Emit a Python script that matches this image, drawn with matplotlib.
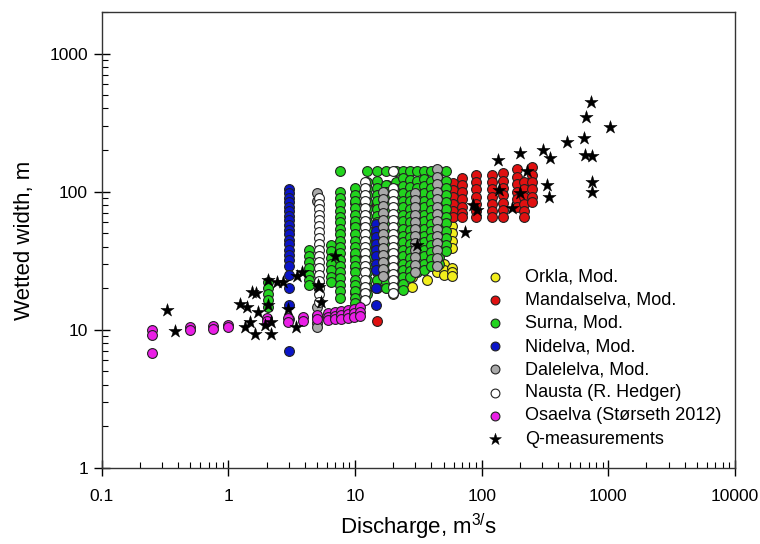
import numpy as np
import matplotlib.pyplot as plt
from matplotlib.ticker import FuncFormatter, LogLocator

plt.rcParams['font.family'] = ['Liberation Sans', 'DejaVu Sans']
plt.rcParams['mathtext.fontset'] = 'custom'
plt.rcParams['mathtext.rm'] = 'Liberation Sans'

# Data: each river is a set of columns (discharge Q)
# with the wetted widths stacked in that column.
orkla_q = [10, 20, 28, 37, 44, 50, 58]
orkla_w = [[83, 58, 34, 28.6, 18.5],
           [20, 18],
           [24, 20.5],
           [28.6, 23],
           [28.6, 26],
           [30, 27, 25],
           [56, 50, 44, 39, 28, 26, 24.5]]

mandal_q = [15, 17.8, 24, 31, 40, 46, 59, 70, 90, 120, 148, 190, 217, 249]
mandal_w = [[80, 11.5],
            [112, 20],
            [110, 100],
            [112],
            [110],
            [108],
            [116, 103, 91, 81, 72, 65],
            [126, 112, 99, 88, 78, 70, 65],
            [133, 117, 104, 92, 82, 73, 65],
            [133, 117, 104, 92, 82, 73, 65],
            [137, 120, 106, 94, 83, 74, 65],
            [145, 128, 113, 100, 88, 78],
            [118, 104, 92, 82, 73, 65],
            [150, 133, 118, 104, 92, 84]]

surna_q = [2.05, 4.3, 6.4, 7.6, 10, 12.5, 15, 17.5, 21, 24, 27, 31, 35, 40, 46, 52]
surna_w = [[22, 20, 18, 16.3, 14.7],
           [38, 34, 31, 28, 25, 23, 21],
           [41, 37, 33, 30, 27, 24, 22],
           [140, 100, 90, 81, 73, 66, 60, 54, 49, 44, 40, 36, 32, 29, 26, 23.5, 21, 19, 17],
           [107, 95, 85, 76, 68, 61, 55, 49, 44, 40, 36, 32, 29, 26, 23, 21, 19, 17, 15.5],
           [140, 118, 105, 94, 84, 75, 67, 60, 53, 47, 42, 37, 33, 29, 26, 23, 20.5, 18],
           [140, 120, 107, 95, 85, 75, 67, 60, 53, 47, 42, 37, 33, 29, 26, 23, 20],
           [140, 112, 100, 89, 80, 71, 63, 56, 50, 45, 40, 35, 31, 28, 25, 22, 20],
           [140, 118, 105, 93, 83, 74, 66, 59, 52, 46, 41, 37, 33, 29, 26, 23, 20.5],
           [140, 125, 110, 97, 86, 77, 68, 61, 54, 48, 43, 38, 34, 30, 27, 24, 21.5, 19.5],
           [140, 122, 108, 95, 85, 75, 67, 60, 53, 47, 42, 37, 33, 29.5, 26.5, 24],
           [140, 120, 106, 94, 83, 74, 66, 58, 52, 46, 41, 36.5, 32.5, 29, 26],
           [140, 124, 110, 97, 86, 77, 68, 61, 54, 48, 43, 38, 34, 30, 27],
           [140, 120, 106, 94, 83, 74, 66, 58, 52, 46, 41, 36.5, 32.5, 29],
           [140, 122, 108, 96, 85, 76, 67, 60, 53, 47, 42, 37.5, 33.5, 30],
           [140, 120, 106, 94, 84, 75, 66, 59, 52, 46, 41, 37]]

nid_q = [3.0, 14.5]
nid_w = [[105, 97, 90, 84, 78, 72, 67, 62, 57, 53, 49, 45, 42, 38, 35, 32, 29, 25, 20, 15, 12, 7],
         [58, 52, 47, 42, 38, 34, 30, 27, 20, 15]]

dale_q = [5.0, 16.6, 30, 44]
dale_w = [[97, 86, 14.5, 12.5, 11.2, 10.4],
          [100, 89, 79, 70, 62, 55, 49, 44, 39, 35, 31, 27.5, 24.5],
          [98, 87, 77, 68, 60, 54, 48, 42.5, 38, 33.5, 29.5, 26],
          [145, 128, 113, 100, 88, 78, 69, 61, 54, 48, 42.5, 37.5, 33, 29]]

nausta_q = [5.2, 12, 20]
nausta_w = [[90, 82, 75, 68, 62, 56, 51, 46, 42, 38, 34, 31, 28, 25, 22.5, 20, 18, 16],
            [118, 106, 95, 85, 76, 68, 61, 55, 49, 44, 40, 36, 32, 29, 26, 23, 20.5, 18.5, 16.5],
            [140, 107, 96, 86, 77, 69, 62, 55, 49.5, 44.5, 40, 36, 32, 28.5, 25.5, 23, 20.5, 18.5]]

osa_q = [0.25, 0.5, 0.75, 1.0, 2.0, 2.95, 3.9, 5.0, 6.1, 6.9, 7.8, 8.8, 9.8, 10.9]
osa_w = [[10.0, 9.2, 6.8], [10.5, 10.0], [10.6, 10.2], [10.8, 10.4],
         [12.2, 11.5], [12.2, 11.4], [12.4, 11.6], [12.8, 11.9],
         [13.3, 12.4, 11.8], [13.5, 12.6, 11.9], [13.7, 12.8, 12.0],
         [13.9, 13.0, 12.2], [14.2, 13.2, 12.4], [14.5, 13.5, 12.6]]

meas_q = [0.33, 0.38, 1.23, 1.39, 1.54, 1.65, 1.7, 1.47, 1.35, 1.62, 1.94, 2.15, 2.15,
          2.05, 2.05, 2.4, 2.7, 2.95, 3.4, 3.45, 3.8, 5.1, 5.2, 5.4, 6.9, 31, 74, 92, 85,
          134, 137, 173, 200, 200, 230, 304, 347, 330, 338, 470, 728, 665, 1030, 640,
          650, 740, 740, 740]
meas_w = [14.0, 9.8, 15.4, 14.6, 18.9, 18.5, 13.5, 11.4, 10.5, 9.3, 10.9, 11.3, 9.3,
          15.2, 23, 22, 22, 14.2, 10.4, 24.3, 26, 21, 20.5, 16, 34, 41, 51, 74, 80,
          170, 103, 76, 190, 98, 140, 200, 176, 112, 92, 230, 449, 350, 296, 246,
          183, 180, 118, 100]


def flat(qs, ws):
    x, y = [], []
    for q, col in zip(qs, ws):
        x += [q] * len(col)
        y += col
    return x, y


series = [
    ("Orkla, Mod.", orkla_q, orkla_w, '#f2ee1c'),
    ("Mandalselva, Mod.", mandal_q, mandal_w, '#e01010'),
    ("Surna, Mod.", surna_q, surna_w, '#22d41e'),
    ("Nidelva, Mod.", nid_q, nid_w, '#0a14c8'),
    ("Dalelelva, Mod.", dale_q, dale_w, '#a9a9a9'),
    ("Nausta (R. Hedger)", nausta_q, nausta_w, '#ffffff'),
    ("Osaelva (Størseth 2012)", osa_q, osa_w, '#ea1ee6'),
]

fig = plt.figure(figsize=(7.6, 5.44), dpi=100)
ax = fig.add_axes([0.134, 0.140, 0.833, 0.838])

for name, qs, ws, c in series:
    x, y = flat(qs, ws)
    ax.scatter(x, y, s=50, c=c, edgecolors='#222222', linewidths=0.8, label=name)
ax.scatter(meas_q, meas_w, s=100, marker='*', c='black', edgecolors='black',
           linewidths=0.3, label='Q-measurements')

ax.set_xscale('log')
ax.set_yscale('log')
ax.set_xlim(0.1, 10000)
ax.set_ylim(1, 2000)
ax.yaxis.set_major_locator(LogLocator(base=10, numticks=10))
ax.yaxis.set_minor_locator(LogLocator(base=10, subs=np.arange(2, 10), numticks=10))
fmt = FuncFormatter(lambda v, p: f"{v:g}")
ax.xaxis.set_major_formatter(fmt)
ax.yaxis.set_major_formatter(fmt)
ax.tick_params(which='major', direction='inout', length=12, width=1, labelsize=12.5, pad=4)
ax.tick_params(which='minor', direction='in', length=4.5, width=0.8)
ax.tick_params(axis='x', which='major', pad=9)
for sp in ax.spines.values():
    sp.set_color('#333333')
    sp.set_linewidth(1)

ax.set_xlabel(r"Discharge, m$^{3/}$s", fontsize=16, labelpad=6)
ax.set_ylabel("Wetted width, m", fontsize=16, labelpad=10)

ax.legend(loc='upper left', bbox_to_anchor=(0.607, 0.437), frameon=False,
          fontsize=13, handlelength=1, handletextpad=1.15, labelspacing=0.34,
          borderpad=0, borderaxespad=0, markerscale=0.9)

fig.savefig('out.png', dpi=100)
